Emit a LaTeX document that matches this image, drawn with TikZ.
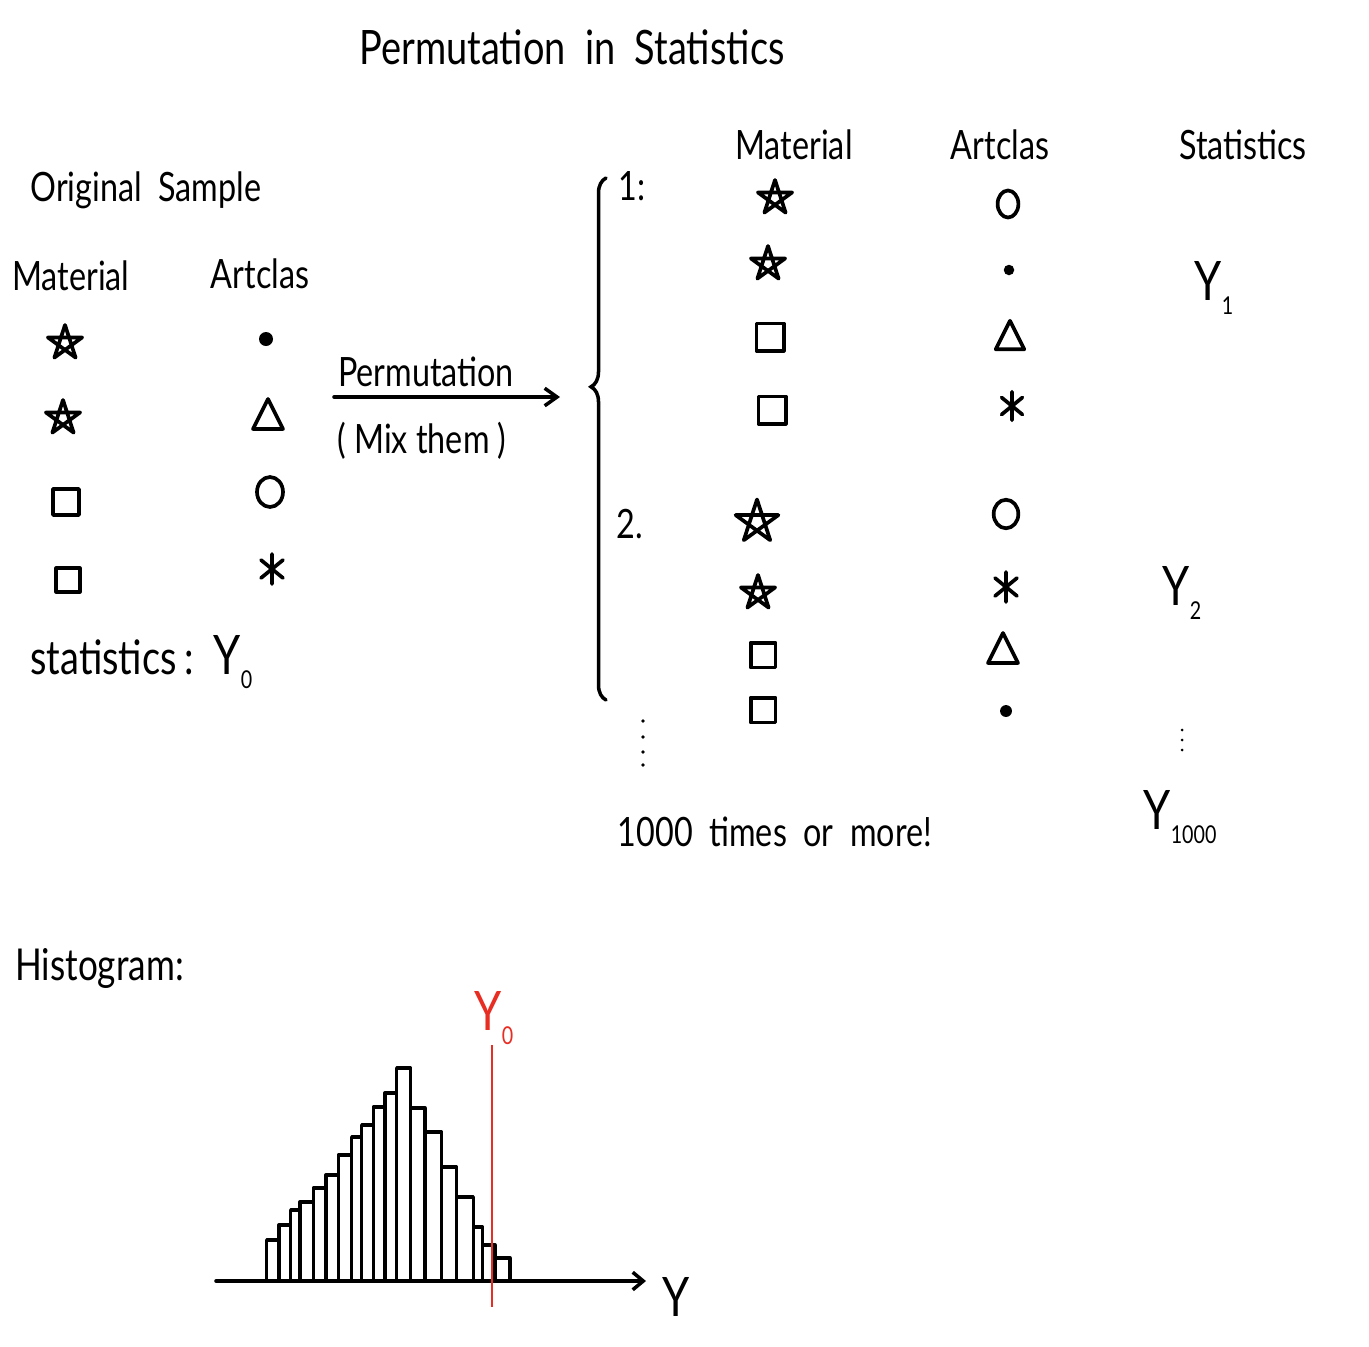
\documentclass[tikz,border=0pt]{standalone}
\usepackage{fontspec}
\setmainfont{Lato}[FakeStretch=0.8]
\usetikzlibrary{arrows.meta,decorations.pathreplacing}
\definecolor{inkred}{RGB}{232,45,35}
\newcommand\lsub[1]{\raisebox{-0.25em}{\fontsize{14}{15}\selectfont #1}}
\tikzset{
  txt/.style={inner sep=0pt, anchor=center},
  big/.style={txt, font=\fontsize{27}{31}\selectfont},
  mid/.style={txt, font=\fontsize{23}{27}\selectfont},
  yval/.style={txt, font=\fontsize{31}{35}\selectfont},
  sym/.style={line width=2.1pt, line join=round, line cap=round},
  ink/.style={line width=2pt, line cap=round},
  hstar/.pic={\draw[sym] (270:18) -- (54:18) -- (198:18) -- (342:18) -- (126:18) -- cycle;},
  hsquare/.pic={\draw[sym] (-13,-13) rectangle (13,13);},
  htri/.pic={\draw[sym] (0,-16) -- (15,14) -- (-15,14) -- cycle;},
  hcirc/.pic={\draw[sym] (0,0) ellipse (13 and 15);},
  hdot/.pic={\fill (0,0) circle (7);},
  hast/.pic={\draw[sym] (0,-15) -- (0,15) (-11,-9) -- (11,9) (-11,9) -- (11,-9);},
}
\begin{document}
\begin{tikzpicture}[x=0.02cm,y=-0.02cm]
\useasboundingbox (0,0) rectangle (1369,1346);
\fill[white] (0,0) rectangle (1369,1346);

% title
\node[big] (title) at (572,47) {Permutation\ \ in\ \ Statistics};

% original sample
\node[mid] (orig) at (146,190) {Original\ \ Sample};
\node[mid] (matL) at (71,276) {Material};
\node[mid] (artL) at (260,274) {Artclas};
\pic at (65,343) {hstar};
\pic at (63,418) {hstar};
\pic at (66,502) {hsquare};
\pic[scale=0.9] at (68,580) {hsquare};
\pic at (266,339) {hdot};
\pic at (268,415) {htri};
\pic at (270,492) {hcirc};
\pic at (272,569) {hast};
\node[txt, anchor=west, font=\fontsize{27}{31}\selectfont] (statL) at (30,662) {statistics\,:\ \ \fontsize{31}{35}\selectfont Y\lsub{0}};

% permutation arrow
\coordinate (arrS) at (334,397);
\coordinate (arrE) at (560,397);
\draw[ink, -{Straight Barb[length=7pt,width=10pt]}] (arrS) -- (arrE);
\node[mid] (permL) at (426,372) {Permutation};
\node[mid] (mixL) at (422,441) {(\ Mix\ them\ )};

% brace
\coordinate (brB) at (606,700);
\coordinate (brT) at (606,178);
\draw[ink, decorate, decoration={brace, amplitude=0.3cm, aspect=0.6}] (brB) -- (brT);

% right headers
\node[mid] (matR) at (794,145) {Material};
\node[mid] (artR) at (1000,145) {Artclas};
\node[mid] (statR) at (1243,145) {Statistics};

% group 1
\node[mid] (n1) at (632,186) {1:};
\pic at (775,198) {hstar};
\pic at (768,264) {hstar};
\pic[scale=1.05] at (770,337) {hsquare};
\pic[scale=1.05] at (772,410) {hsquare};
\pic[xscale=0.8,yscale=0.9] at (1008,204) {hcirc};
\pic[scale=0.75] at (1009,270) {hdot};
\pic[scale=0.95] at (1010,336) {htri};
\pic[scale=0.95] at (1012,406) {hast};
\node[yval] (y1) at (1214,288) {Y\lsub{1}};

% group 2
\node[mid] (n2) at (630,524) {2.};
\pic[scale=1.25] at (757,522) {hstar};
\pic at (758,593) {hstar};
\pic[scale=0.95] at (763,655) {hsquare};
\pic[scale=0.95] at (763,710) {hsquare};
\pic[scale=0.95] at (1006,514) {hcirc};
\pic[scale=0.85] at (1006,711) {hdot};
\pic at (1003,649) {htri};
\pic[scale=1.0] at (1006,587) {hast};
\node[yval] (y2) at (1182,593) {Y\lsub{2}};

% continuation dots
\foreach \yy in {721,737,752,765} \fill (643,\yy) circle (1.8);
\foreach \yy in {730,740,750} \fill (1182,\yy) circle (1.5);

\node[mid] (times) at (775,832) {1000\ \ times\ \ or\ \ more!};
\node[yval] (y1000) at (1180,817) {Y\lsub{1000}};

% histogram
\node[txt, anchor=west, font=\fontsize{25}{29}\selectfont] (histL) at (15,968) {Histogram:};
\foreach \l/\r/\t in {266.7/279/1240, 279/290.7/1225, 290.7/300/1210, 300/313.3/1202,
  313.3/326/1188, 326/338.3/1175, 338.3/351.7/1155, 351.7/361.7/1137, 361.7/373.3/1125,
  373.3/385/1107, 385/396.7/1093, 396.7/410.7/1068, 410.7/425/1108, 425/441.7/1132,
  441.7/456.7/1167, 456.7/473.3/1197, 473.3/482.7/1227, 482.7/495/1245, 495/510/1258}
  \draw[line width=1.9pt, line join=round] (\l,1282) -- (\l,\t) -- (\r,\t) -- (\r,1282);
\coordinate (axS) at (216,1281);
\coordinate (axE) at (646,1281);
\draw[ink, -{Straight Barb[length=6pt,width=10pt]}] (axS) -- (axE);
\node[yval] (yax) at (676,1297) {Y};
\coordinate (rT) at (492,1045);
\coordinate (rB) at (492,1307);
\draw[inkred, line width=1.4pt] (rT) -- (rB);
\node[yval, text=inkred] (y0r) at (494,1018) {Y\lsub{0}};
\end{tikzpicture}
\end{document}
